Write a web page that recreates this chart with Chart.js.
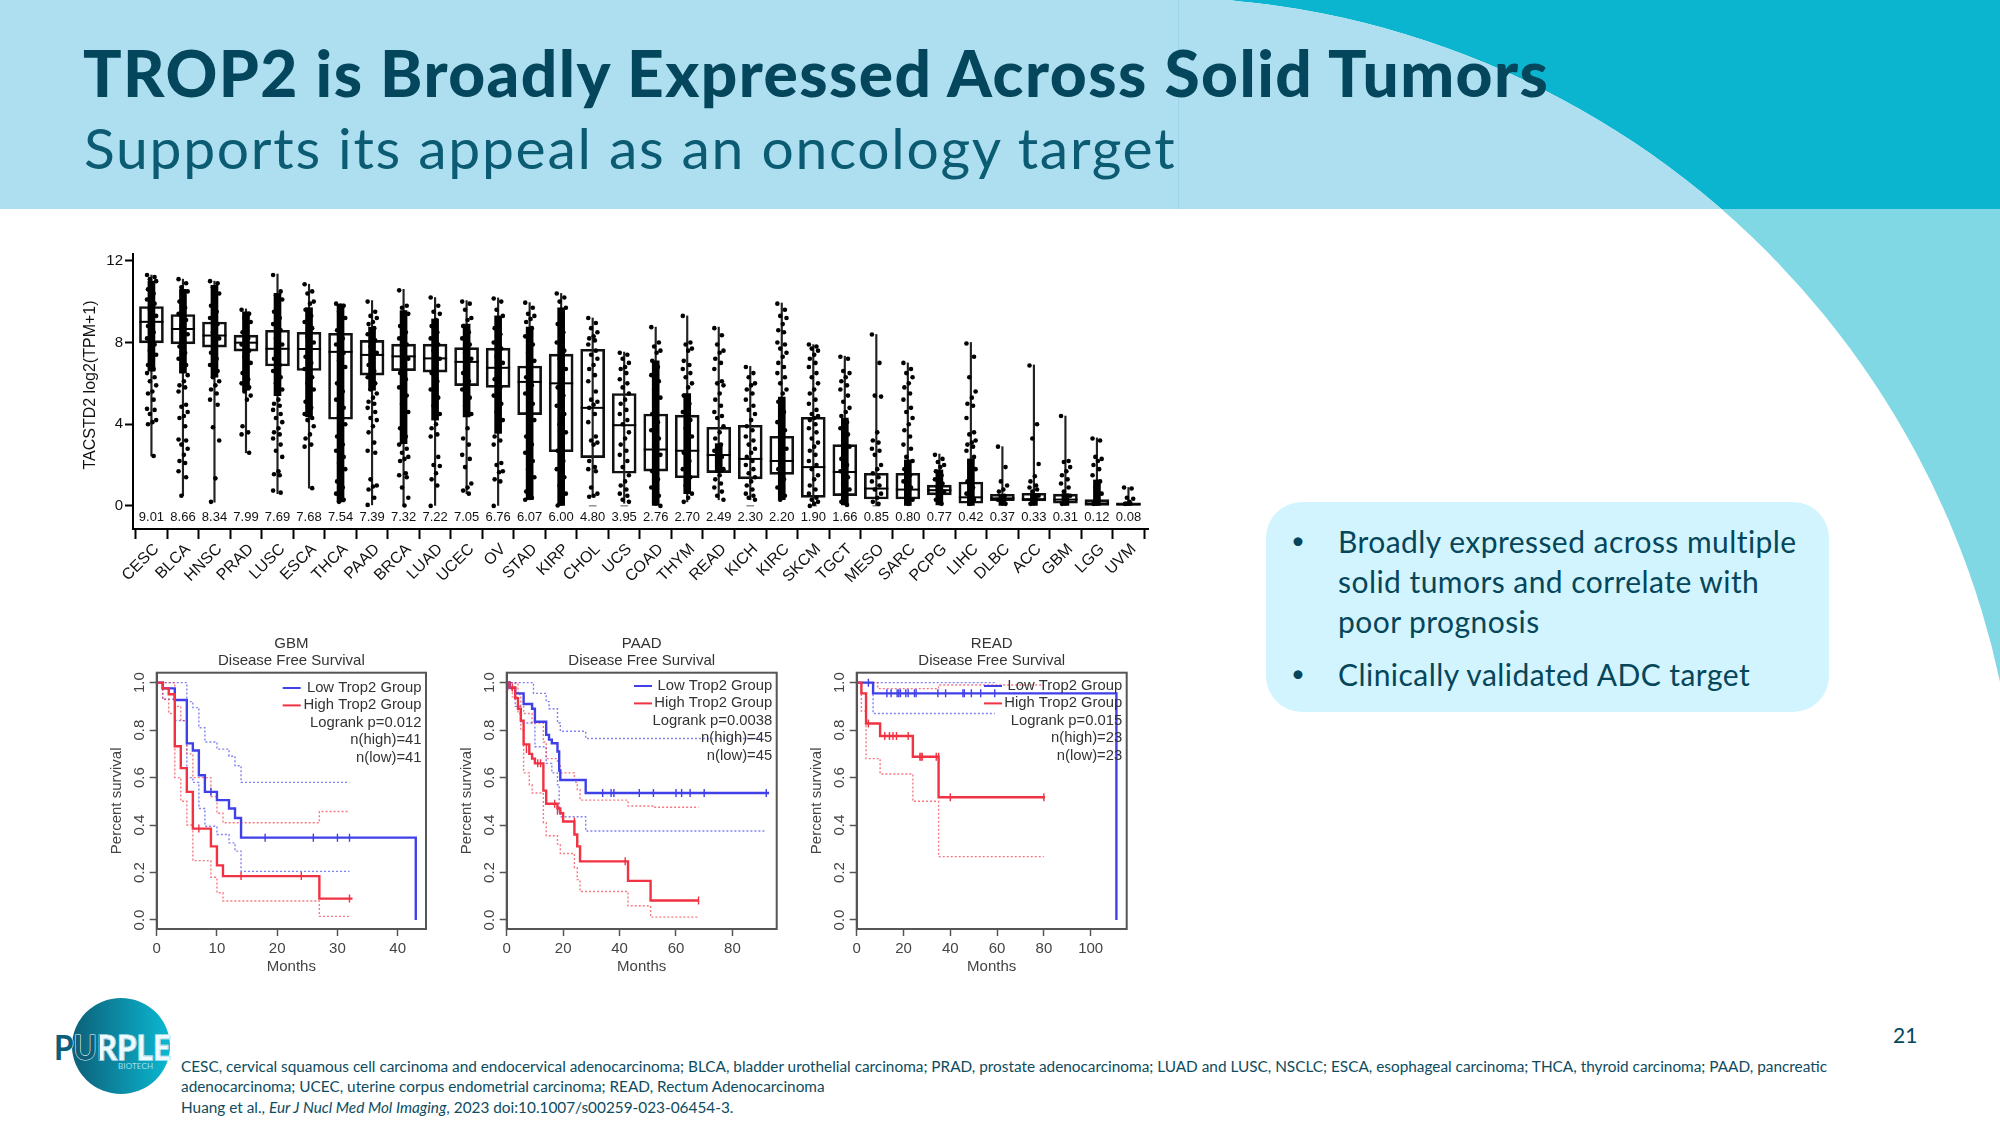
<!DOCTYPE html>
<html>
<head>
<meta charset="utf-8">
<title>TROP2 is Broadly Expressed Across Solid Tumors</title>
<script src="https://cdn.jsdelivr.net/npm/chart.js@4"></script>
<style>
  html, body { margin: 0; padding: 0; background: #fff; }
  #slide { position: relative; width: 2000px; height: 1125px; overflow: hidden; font-family: Lato, sans-serif; color: #05465a; }
  #slide svg.fondo { position: absolute; left: 0; top: 0; }
  #slide canvas { position: absolute; }
  #cajas { filter: blur(0.35px); }
  .km { filter: blur(0.55px); }
  .txt { position: absolute; white-space: nowrap; }
  #titulo { left: 83px; top: 35px; font-size: 64px; font-weight: 900; letter-spacing: 1.45px; color: #04465b; line-height: 76px; }
  #subtitulo { left: 84px; top: 112px; font-size: 57px; font-weight: 400; letter-spacing: 1.7px; color: #0b5b72; line-height: 70px; }
  #cuadro { position: absolute; left: 1266px; top: 502px; width: 563px; height: 210px; background: #d2f4fe; border-radius: 36px; }
  .linea { font-size: 30px; line-height: 40px; letter-spacing: 0.45px; color: #05465a; }
  .punto { font-size: 24px; }
  .nota { left: 181px; font-size: 15.35px; line-height: 20px; color: #0d4c60; }
</style>
</head>
<body>
<div id="slide">
  <svg class="fondo" width="2000" height="1125">
    <defs>
      <clipPath id="banda"><rect x="0" y="0" width="2000" height="209"/></clipPath>
      <clipPath id="logoClip"><rect x="100" y="990" width="80" height="110"/></clipPath>
      <linearGradient id="logoGrad"><stop offset="0" stop-color="#0d5f78"/><stop offset="1" stop-color="#0bb8d2"/></linearGradient>
    </defs>
    <rect x="0" y="0" width="2000" height="1125" fill="#7fd8e3"/>
    <rect x="0" y="0" width="2000" height="209" fill="#0bb5cf"/>
    <rect x="0" y="689" width="2000" height="436" fill="#fff"/>
    <circle cx="1154" cy="862" r="865" fill="#fff"/>
    <rect x="0" y="0" width="1154" height="1125" fill="#fff"/>
    <g clip-path="url(#banda)">
      <circle cx="1154" cy="862" r="865" fill="#aedff0"/>
      <rect x="0" y="0" width="1154" height="209" fill="#aedff0"/>
      <rect x="1178" y="0" width="1" height="209" fill="#9dd5e8"/>
    </g>
    <ellipse cx="121" cy="1046" rx="49" ry="48" fill="url(#logoGrad)"/>
    <text x="54" y="1060" font-family="Lato" font-weight="700" font-size="34" textLength="117" lengthAdjust="spacingAndGlyphs" fill="#0d5f78" stroke="#ecfbff" stroke-width="1.2" paint-order="stroke">PURPLE</text>
    <g clip-path="url(#logoClip)">
      <text x="54" y="1060" font-family="Lato" font-weight="700" font-size="34" textLength="117" lengthAdjust="spacingAndGlyphs" fill="#ecfbff">PURPLE</text>
    </g>
    <text x="118" y="1069" font-family="Lato" font-size="8" textLength="35" fill="#9fe3ee">BIOTECH</text>
  </svg>

  <div class="txt" id="titulo">TROP2 is Broadly Expressed Across Solid Tumors</div>
  <div class="txt" id="subtitulo">Supports its appeal as an oncology target</div>

  <canvas id="cajas" width="1092" height="350" style="left:70px;top:240px"></canvas>
  <canvas id="kmGbm" class="km" width="340" height="350" style="left:100px;top:630px"></canvas>
  <canvas id="kmPaad" class="km" width="340" height="350" style="left:450px;top:630px"></canvas>
  <canvas id="kmRead" class="km" width="340" height="350" style="left:800px;top:630px"></canvas>

  <div id="cuadro"></div>
  <div class="txt linea punto" style="left:1291px;top:520px">•</div>
  <div class="txt linea" style="left:1338px;top:521px">Broadly expressed across multiple</div>
  <div class="txt linea" style="left:1338px;top:561px">solid tumors and correlate with</div>
  <div class="txt linea" style="left:1338px;top:601px">poor prognosis</div>
  <div class="txt linea punto" style="left:1291px;top:653px">•</div>
  <div class="txt linea" style="left:1338px;top:654px">Clinically validated ADC target</div>

  <div class="txt" style="left:1893px;top:1022px;font-size:21px;color:#05465a">21</div>
  <div class="txt nota" style="top:1056px">CESC, cervical squamous cell carcinoma and endocervical adenocarcinoma; BLCA, bladder urothelial carcinoma; PRAD, prostate adenocarcinoma; LUAD and LUSC, NSCLC; ESCA, esophageal carcinoma; THCA, thyroid carcinoma; PAAD, pancreatic</div>
  <div class="txt nota" style="top:1076px">adenocarcinoma; UCEC, uterine corpus endometrial carcinoma; READ, Rectum Adenocarcinoma</div>
  <div class="txt nota" style="top:1097px">Huang et al., <i>Eur J Nucl Med Mol Imaging</i>, 2023 doi:10.1007/s00259-023-06454-3.</div>
</div>

<script>
const tumors = ['CESC','BLCA','HNSC','PRAD','LUSC','ESCA','THCA','PAAD','BRCA','LUAD','UCEC','OV','STAD','KIRP','CHOL','UCS','COAD','THYM','READ','KICH','KIRC','SKCM','TGCT','MESO','SARC','PCPG','LIHC','DLBC','ACC','GBM','LGG','UVM'];
const medians = [9.01,8.66,8.34,7.99,7.69,7.68,7.54,7.39,7.32,7.22,7.05,6.76,6.07,6.00,4.80,3.95,2.76,2.70,2.49,2.30,2.20,1.90,1.66,0.85,0.80,0.77,0.42,0.37,0.33,0.31,0.12,0.08];
const boxLow = [7.98,7.93,7.77,7.58,6.85,6.63,4.24,6.4,6.62,6.55,5.89,5.8,4.47,2.65,2.36,1.6,1.7,1.38,1.63,1.32,1.54,0.42,0.5,0.34,0.34,0.54,0.13,0.26,0.24,0.13,0.03,0.02];
const boxHigh = [9.76,9.37,9.0,8.36,8.6,8.5,8.45,8.1,7.92,7.92,7.75,7.72,6.85,7.43,7.67,5.5,4.5,4.44,3.85,3.95,3.41,4.34,3.0,1.6,1.6,1.02,1.17,0.57,0.62,0.58,0.31,0.15];
const whiskerLow = [2.44,0.5,0.18,2.6,0.6,0.87,0.2,0.05,0.02,0,0.6,0,0.3,0.02,0.45,0.13,0,0.2,0.3,0.3,0.3,0.02,0.05,0,0,0.05,0,0,0,0,0,0];
const whiskerHigh = [11.3,11.1,11.0,9.64,11.35,10.85,9.9,10.05,10.6,10.2,10.05,10.18,9.95,10.4,9.2,7.53,8.75,9.3,8.75,6.83,9.93,7.89,7.33,8.39,7.0,2.54,8.0,2.9,6.9,4.4,3.33,0.9];
// tramo donde los puntos se pegan en una columna negra (0,0 = sin columna)
const coreLow = [6.6,6.5,6.3,5.66,5.4,4.36,0.2,5.66,3.05,4.2,4.36,3.55,0.3,0.02,0,0,0,0.6,1.63,0,0.3,0,0.05,0,0,0.05,0,0,0,0,0,0];
const coreHigh = [11.0,10.6,10.8,9.5,10.4,9.7,9.88,8.75,9.56,9.15,8.9,9.3,8.75,9.7,0,0,7.1,5.5,3.05,0,5.33,0,4.3,0,2.25,1.76,2.3,0.55,0.6,0.6,1.27,0.2];
const stripValues = [
  [11.3,11.2,11.1,11.0,10.8,10.6,10.4,10.1,9.9,9.6,9.3,9.0,8.8,8.5,8.2,7.9,7.6,7.4,7.1,6.9,6.7,6.5,6.3,6.1,5.9,5.6,5.5,5.2,4.75,4.7,4.5,4.2,4.1,4.0,2.44],
  [11.1,10.9,10.7,10.5,10.2,10.0,9.7,9.4,9.1,8.8,8.4,8.1,7.8,7.5,7.2,6.9,6.6,6.4,6.1,5.9,5.8,5.6,4.95,4.85,4.6,4.4,4.3,3.9,3.25,3.2,3.0,2.8,2.5,2.2,2.1,1.7,1.4,0.5],
  [11.0,10.9,10.7,10.4,10.1,9.8,9.5,9.2,8.9,8.5,8.2,7.9,7.5,7.2,6.9,6.6,6.3,6.1,5.9,5.7,5.5,5.2,4.95,3.85,3.2,1.35,0.2],
  [9.6,9.4,9.2,9.0,8.8,8.5,8.2,7.9,7.6,7.3,7.0,6.8,6.5,6.2,6.0,5.8,5.6,5.4,5.2,3.9,3.6,3.5,2.6],
  [11.3,10.5,10.3,10.1,9.8,9.5,9.2,8.9,8.6,8.2,7.9,7.5,7.2,6.9,6.6,6.3,6.0,5.7,5.2,5.0,4.9,4.7,4.5,4.3,4.1,3.8,3.6,3.5,3.3,3.0,2.7,2.4,1.7,1.55,1.5,0.75,0.65],
  [10.85,10.5,10.4,10.0,9.9,9.6,9.3,9.0,8.7,8.3,8.0,7.6,7.3,7.0,6.7,6.3,6.0,5.7,5.4,5.1,4.8,4.5,4.3,4.2,3.9,3.5,3.3,3.0,2.9,0.87],
  [9.9,9.8,9.5,9.2,8.9,8.6,8.2,7.9,7.5,7.1,6.8,6.4,6.0,5.6,5.2,4.8,4.4,4.0,3.7,3.4,3.0,2.7,2.4,2.1,1.8,1.5,1.2,0.9,0.6,0.3,0.2],
  [10.0,9.5,9.3,9.2,9.0,8.9,8.7,8.4,8.1,7.8,7.5,7.2,6.9,6.6,6.3,6.0,5.7,5.5,5.3,5.1,5.0,4.8,4.6,4.3,4.2,3.9,3.6,3.1,2.7,2.6,1.3,1.0,0.95,0.8,0.4,0.05],
  [10.55,9.8,9.7,9.4,9.1,8.8,8.5,8.2,7.9,7.6,7.2,6.9,6.5,6.2,5.8,5.4,5.0,4.6,4.2,3.8,3.4,3.0,2.8,2.6,2.4,2.3,2.2,1.6,1.5,1.4,0.9,0.4,0.02],
  [10.2,9.8,9.5,9.4,9.1,8.8,8.5,8.2,7.9,7.6,7.2,6.8,6.5,6.1,5.7,5.3,4.9,4.5,4.0,3.8,3.5,3.4,2.4,2.0,1.95,1.6,1.3,1.0,0],
  [10.0,9.9,9.6,9.2,9.1,8.8,8.5,8.2,7.9,7.5,7.2,6.9,6.5,6.1,5.7,5.3,4.9,4.5,3.8,3.3,3.0,2.5,2.3,1.9,1.1,0.9,0.75,0.6],
  [10.15,10.0,9.6,9.3,9.0,8.7,8.4,8.0,7.7,7.3,7.0,6.6,6.2,5.8,5.4,5.0,4.6,4.2,3.8,3.4,3.2,3.0,2.1,2.0,1.7,1.65,1.3,1.2,0],
  [9.95,9.7,9.4,9.3,9.15,9.0,8.7,8.3,7.9,7.5,7.1,6.7,6.3,5.9,5.5,5.0,4.6,4.2,3.8,3.4,3.0,2.6,2.2,1.8,1.4,1.0,0.7,0.4,0.3],
  [10.4,10.2,10.0,9.7,9.3,8.9,8.5,8.0,7.6,7.2,6.7,6.3,5.8,5.4,4.9,4.5,4.0,3.6,3.1,2.7,2.2,1.8,1.4,1.0,0.6,0.2,0.02],
  [9.2,8.95,8.7,8.5,8.3,8.2,8.1,7.9,7.6,7.4,7.2,6.9,6.7,6.4,6.1,5.6,5.2,5.1,4.95,4.8,4.5,4.1,3.4,3.2,3.1,3.0,2.2,1.9,1.8,1.7,0.9,0.6,0.5,0.45],
  [7.5,7.4,7.2,7.0,6.8,6.7,6.5,6.2,6.0,5.8,5.5,5.2,5.0,4.7,4.5,4.2,4.0,3.6,3.3,3.0,2.7,2.5,2.2,1.9,1.5,1.2,1.0,0.8,0.6,0.5,0.3,0.2],
  [8.75,8.0,7.8,7.6,7.5,7.1,6.8,6.4,6.1,5.7,5.3,4.9,4.5,4.1,3.7,3.3,2.9,2.5,2.1,1.7,1.3,0.9,0.5,0.2,0],
  [9.3,8.0,7.9,7.7,7.6,7.1,6.9,6.7,6.5,6.3,6.0,5.8,5.4,5.0,4.6,4.2,3.8,3.4,3.0,2.6,2.2,1.8,1.4,1.0,0.6,0.4,0.2],
  [8.7,8.35,7.9,7.6,7.5,7.2,7.0,6.7,6.1,6.0,5.9,5.5,5.2,4.9,4.6,4.4,4.3,3.9,3.6,3.3,3.0,2.7,2.4,2.1,1.8,1.5,1.3,1.1,0.9,0.7,0.5,0.3],
  [6.8,6.5,6.3,6.0,5.9,5.7,5.5,5.2,4.9,4.7,4.5,4.2,3.9,3.7,3.4,3.2,3.0,2.8,2.6,2.4,2.2,2.0,1.8,1.6,1.4,1.2,1.0,0.8,0.6,0.5,0.4,0.3],
  [9.9,9.6,9.3,9.2,8.9,8.6,8.5,8.0,7.9,7.7,7.5,7.3,7.0,6.8,6.5,6.3,6.0,5.7,5.5,5.1,4.6,4.1,3.7,3.2,2.8,2.3,1.8,1.3,0.9,0.5,0.3],
  [7.9,7.8,7.7,7.6,7.4,7.2,7.0,6.8,6.5,6.3,6.0,5.7,5.5,5.2,5.0,4.7,4.5,4.4,4.3,4.2,4.0,3.8,3.6,3.3,3.1,2.9,2.7,2.5,2.2,2.0,1.8,1.5,1.3,1.0,0.8,0.6,0.4,0.3,0.2,0.1,0],
  [7.3,7.2,6.6,6.5,6.3,6.1,5.9,5.7,5.4,5.1,4.8,4.6,4.4,4.1,3.8,3.5,3.2,2.9,2.6,2.3,2.0,1.7,1.4,1.1,0.8,0.5,0.2,0.05],
  [8.39,7.0,5.4,5.35,3.6,3.2,3.1,2.8,2.7,2.5,2.0,1.8,1.6,1.4,1.2,1.0,0.8,0.6,0.4,0.2,0.1],
  [7.0,6.7,6.5,6.3,6.0,5.8,5.5,5.2,4.8,4.6,4.3,4.0,3.7,3.4,3.0,2.8,2.4,2.2,2.0,1.8,1.5,1.2,0.9,0.6,0.3,0.1],
  [2.5,2.3,2.15,2.0,1.9,1.7,1.5,1.3,1.1,0.9,0.7,0.5,0.3,0.1],
  [7.95,7.3,6.3,5.6,5.3,5.0,4.9,4.3,3.6,3.5,3.2,3.1,3.0,2.9,2.7,2.4,2.1,1.8,1.5,1.2,0.9,0.6,0.3,0.1],
  [2.9,1.9,1.2,1.0,0.8,0.7,0.5,0.3,0.1],
  [6.87,4.0,3.3,2.05,1.45,1.2,1.0,0.9,0.8,0.7,0.5,0.3,0.1],
  [4.4,2.2,2.15,1.9,1.7,1.5,1.3,1.1,0.9,0.7,0.5,0.3,0.1],
  [3.3,3.2,2.4,2.3,2.2,2.0,1.8,1.5,1.2,0.9,0.6,0.3,0.1],
  [0.9,0.85,0.4,0.35,0.2,0.1]
];
const boxTicks = [0,4,8,12];

const survivalTicks = [0,0.2,0.4,0.6,0.8,1];
const legendLabels = ['Low Trop2 Group','High Trop2 Group'];

const gbmLowX = [0,1,3,5,6,7,8,10,12,13,14,43];
const gbmLowY = [1,0.976,0.927,0.744,0.714,0.61,0.54,0.505,0.47,0.43,0.347,0];
const gbmHighX = [0,1,2,3,4,5,6,9,10,11,27,32.5];
const gbmHighY = [1,0.976,0.951,0.732,0.64,0.54,0.385,0.31,0.23,0.185,0.09,0.09];
const gbmLowUpX = [0,5,6,7,8,9,10,12,13,14,32];
const gbmLowUpY = [1,0.92,0.895,0.81,0.75,0.75,0.72,0.69,0.65,0.58,0.58];
const gbmLowDownX = [0,1,3,5,6,7,8,10,12,13,14,32];
const gbmLowDownY = [1,0.93,0.84,0.6,0.58,0.47,0.395,0.36,0.325,0.29,0.205,0.205];
const gbmHighUpX = [0,3,4,5,6,9,10,11,27,32];
const gbmHighUpY = [1,0.9,0.84,0.7,0.6,0.52,0.45,0.41,0.457,0.457];
const gbmHighDownX = [0,1,2,3,4,5,6,9,10,11,27,32];
const gbmHighDownY = [1,0.93,0.87,0.6,0.5,0.4,0.25,0.18,0.115,0.08,0.015,0.015];
const gbmLowCensorX = [9,18,26,30,32];
const gbmLowCensorY = [0.54,0.347,0.347,0.347,0.347];
const gbmHighCensorX = [7,14,24,32];
const gbmHighCensorY = [0.385,0.185,0.185,0.09];
const gbmNotes = ['Logrank p=0.012','n(high)=41','n(low)=41'];

const paadLowX = [0,1,3,6,9,10,14,15,16,18,18.6,19,28,93];
const paadLowY = [1,0.978,0.955,0.91,0.89,0.835,0.78,0.76,0.745,0.71,0.63,0.59,0.535,0.535];
const paadHighX = [0,1,3,4,5,6,8,9,10,13,14,18,19,20,24,25,26,43,51,68];
const paadHighY = [1,0.98,0.935,0.89,0.84,0.74,0.7,0.68,0.66,0.545,0.49,0.47,0.45,0.415,0.36,0.31,0.247,0.165,0.082,0.082];
const paadLowUpX = [0,9.5,14,15,18,19,28,91];
const paadLowUpY = [1,0.955,0.92,0.89,0.83,0.795,0.765,0.765];
const paadLowDownX = [0,3,5,10,14,16,18,18.6,19,28,92];
const paadLowDownY = [1,0.9,0.83,0.73,0.66,0.62,0.57,0.45,0.435,0.375,0.375];
const paadHighUpX = [0,4,5,6,9,13,14,18,19,24,25,26,43,52,68];
const paadHighUpY = [1,0.95,0.9,0.87,0.83,0.75,0.68,0.66,0.62,0.58,0.55,0.505,0.48,0.475,0.475];
const paadHighDownX = [0,2,4,5,6,8,9,13,14,18,19,24,25,26,43,51,68];
const paadHighDownY = [0.97,0.94,0.87,0.8,0.62,0.57,0.535,0.41,0.355,0.32,0.28,0.22,0.17,0.12,0.06,0.012,0.012];
const paadLowCensorX = [1,34,37,38,47,52,60,62,65,70,92];
const paadLowCensorY = [0.99,0.535,0.535,0.535,0.535,0.535,0.535,0.535,0.535,0.535,0.535];
const paadHighCensorX = [1,2,7,11,12,17,18,24,42,68];
const paadHighCensorY = [0.99,0.98,0.72,0.66,0.66,0.49,0.46,0.415,0.247,0.082];
const paadNotes = ['Logrank p=0.0038','n(high)=45','n(low)=45'];

const readLowX = [0,7,111];
const readLowY = [1,0.955,0];
const readHighX = [0,2,4,10,24,35,80.5];
const readHighY = [1,0.955,0.828,0.775,0.688,0.517,0.517];
const readLowUpX = [0,59];
const readLowUpY = [1,1];
const readLowDownX = [0,7,59];
const readLowDownY = [1,0.87,0.87];
const readHighUpX = [0,9,35,80];
const readHighUpY = [1,0.975,0.99,0.99];
const readHighDownX = [0,2,4,10,24,35,80];
const readHighDownY = [1,0.88,0.68,0.615,0.5,0.267,0.267];
const readLowCensorX = [5,12.9,14.7,17.3,18,18.7,21,22,24.7,25.4,34.7,38,45.4,46,49,53,59];
const readLowCensorY = [1,0.955,0.955,0.955,0.955,0.955,0.955,0.955,0.955,0.955,0.955,0.955,0.955,0.955,0.955,0.955,0.955];
const readHighCensorX = [5,12,14,15.5,17,22,27,27.5,28,34,35,40,80];
const readHighCensorY = [0.828,0.775,0.775,0.775,0.775,0.775,0.688,0.688,0.688,0.688,0.688,0.517,0.517];
const readNotes = ['Logrank p=0.015','n(high)=23','n(low)=23'];

Chart.defaults.font.family = '"Liberation Sans", Arial, sans-serif';
Chart.defaults.animation = false;
Chart.defaults.responsive = false;
Chart.defaults.devicePixelRatio = 1;

const JITTER = [-0.14, 0.1, -0.05, 0.15, 0.03, -0.11, 0.07];
const BLUE = '#4040e8';
const RED = '#f03242';

function zipPoints(xs, ys) {
  return xs.map((x, i) => ({ x: x, y: ys[i] }));
}

// grafico de cajas con los puntos de cada tumor
const stripPoints = [];
stripValues.forEach((values, i) => {
  values.forEach((v, k) => stripPoints.push({ x: i + JITTER[k % JITTER.length], y: v }));
});

const medianLabelsPlugin = {
  id: 'medianLabels',
  afterDatasetsDraw(chart) {
    const c = chart.ctx, sx = chart.scales.x, sy = chart.scales.y;
    c.save();
    c.font = '13px "Liberation Sans"';
    c.fillStyle = '#111';
    c.textAlign = 'center';
    c.textBaseline = 'middle';
    medians.forEach((m, i) => c.fillText(m.toFixed(2), sx.getPixelForValue(i), sy.getPixelForValue(-0.55)));

    // titulo del eje y, algo por encima del centro del eje
    c.font = '16px "Liberation Sans"';
    c.translate(21, 145);
    c.rotate(-Math.PI / 2);
    c.fillText('TACSTD2 log2(TPM+1)', 0, 0);
    c.restore();
  }
};

new Chart(document.getElementById('cajas'), {
  type: 'bar',
  data: {
    datasets: [
      {
        type: 'scatter', order: 0,
        data: medians.map((m, i) => ({ x: i, y: m })),
        pointStyle: 'line', pointRadius: 12, pointBorderWidth: 2, pointBorderColor: '#000'
      },
      {
        type: 'scatter', order: 1,
        data: stripPoints,
        pointRadius: 2.3, pointBackgroundColor: '#000', pointBorderWidth: 0
      },
      {
        order: 2, grouped: false, barThickness: 7, backgroundColor: '#000',
        data: tumors.map((t, i) => ({ x: i, y: [coreLow[i], coreHigh[i]] }))
      },
      {
        order: 3, grouped: false, barThickness: 1.5, backgroundColor: '#222',
        data: tumors.map((t, i) => ({ x: i, y: [whiskerLow[i], whiskerHigh[i]] }))
      },
      {
        order: 4, grouped: false, barThickness: 24, backgroundColor: 'rgba(0,0,0,0)',
        borderColor: '#111', borderWidth: 2, borderSkipped: false,
        data: tumors.map((t, i) => ({ x: i, y: [boxLow[i], boxHigh[i]] }))
      }
    ]
  },
  options: {
    layout: { padding: { top: 11, right: 9 } },
    plugins: { legend: { display: false }, tooltip: { enabled: false } },
    scales: {
      x: {
        type: 'linear', offset: false, min: -0.585, max: 31.62,
        afterBuildTicks: s => { s.ticks = tumors.map((t, i) => ({ value: i })); },
        afterFit: s => { s.height = 61; s.paddingLeft = 0; s.paddingRight = 0; },
        grid: { drawOnChartArea: false, tickLength: 10, tickColor: '#000', tickWidth: 2 },
        border: { color: '#000', width: 2 },
        ticks: {
          autoSkip: false, maxRotation: 45, minRotation: 45, padding: 1, labelOffset: 5, color: '#111',
          font: { size: 16 }, callback: v => tumors[v]
        }
      },
      y: {
        min: -1.13, max: 12.33,
        afterBuildTicks: s => { s.ticks = boxTicks.map(v => ({ value: v })); },
        afterFit: s => { s.width = 63; },
        grid: { drawOnChartArea: false, tickLength: 8, tickColor: '#000', tickWidth: 2 },
        border: { color: '#000', width: 2 },
        ticks: { padding: 2, color: '#111', font: { size: 15 } }
      }
    }
  },
  plugins: [medianLabelsPlugin]
});

// curvas de supervivencia
function survivalChart(id, cfg) {
  const framePlugin = {
    id: 'frame',
    afterDatasetsDraw(chart) {
      const c = chart.ctx, a = chart.chartArea, sy = chart.scales.y;
      c.save();
      c.strokeStyle = '#555';
      c.lineWidth = 2;
      c.strokeRect(a.left, a.top, a.right - a.left, a.bottom - a.top);

      // etiquetas del eje y giradas, al estilo de R
      c.fillStyle = '#444';
      c.font = '15px "Liberation Sans"';
      c.textAlign = 'center';
      c.textBaseline = 'middle';
      survivalTicks.forEach(v => {
        c.save();
        c.translate(a.left - 17, sy.getPixelForValue(v));
        c.rotate(-Math.PI / 2);
        c.fillText(v.toFixed(1), 0, 0);
        c.restore();
      });

      // leyenda
      c.font = '14.8px "Liberation Sans"';
      c.textAlign = 'right';
      const rows = legendLabels.concat(cfg.notes);
      rows.forEach((t, i) => {
        c.fillStyle = '#333';
        c.fillText(t, a.right - 4.5, a.top + cfg.legendTop + i * 17.4);
      });
      c.lineWidth = 2;
      [BLUE, RED].forEach((col, i) => {
        c.strokeStyle = col;
        c.beginPath();
        c.moveTo(a.right - cfg.legendLine, a.top + cfg.legendTop + i * 17.4);
        c.lineTo(a.right - cfg.legendLine + 18, a.top + cfg.legendTop + i * 17.4);
        c.stroke();
      });
      c.restore();
    }
  };

  const curve = (points, color) => ({
    data: points, showLine: true, stepped: 'before', borderColor: color, borderWidth: 2.4, pointRadius: 0
  });
  const band = (points, color) => ({
    data: points, showLine: true, stepped: 'before', borderColor: color, borderWidth: 1.4, borderDash: [2, 2], pointRadius: 0
  });
  const censor = (points, color) => ({
    data: points, showLine: false, pointStyle: 'line', pointRotation: 90, pointRadius: 4, pointBorderWidth: 1.4, pointBorderColor: color
  });

  new Chart(document.getElementById(id), {
    type: 'scatter',
    data: {
      datasets: [
        censor(cfg.highCensor, RED),
        censor(cfg.lowCensor, BLUE),
        curve(cfg.high, RED),
        curve(cfg.low, BLUE),
        band(cfg.highUp, 'rgba(240,50,66,0.65)'),
        band(cfg.highDown, 'rgba(240,50,66,0.65)'),
        band(cfg.lowUp, 'rgba(64,64,232,0.65)'),
        band(cfg.lowDown, 'rgba(64,64,232,0.65)')
      ]
    },
    options: {
      layout: { padding: { right: cfg.paddingRight } },
      plugins: {
        legend: { display: false },
        tooltip: { enabled: false },
        title: {
          display: true, text: [cfg.title, 'Disease Free Survival'], fullSize: false,
          color: '#333', font: { size: 15, weight: 'normal', lineHeight: 1.1 },
          padding: { top: 6, bottom: 3.7 }
        }
      },
      scales: {
        x: {
          type: 'linear', min: 0, max: cfg.xMax,
          afterBuildTicks: s => { s.ticks = cfg.xTicks.map(v => ({ value: v })); },
          afterFit: s => { s.height = 51; },
          grid: { drawOnChartArea: false, tickLength: 7, tickColor: '#555', tickWidth: 1.5 },
          border: { color: '#555', width: 2 },
          ticks: { maxRotation: 0, padding: 4, color: '#444', font: { size: 15 } },
          title: { display: true, text: 'Months', color: '#444', font: { size: 15 }, padding: { top: 1, bottom: 4 } }
        },
        y: {
          min: -0.038, max: 1.042,
          afterBuildTicks: s => { s.ticks = survivalTicks.map(v => ({ value: v })); },
          afterFit: s => { s.width = 56.7; },
          grid: { drawOnChartArea: false, tickLength: 7, tickColor: '#555', tickWidth: 1.5 },
          border: { color: '#555', width: 2 },
          ticks: { display: false },
          title: { display: true, text: 'Percent survival', color: '#444', font: { size: 15 }, padding: { top: 8, bottom: 0 } }
        }
      }
    },
    plugins: [framePlugin]
  });
}

survivalChart('kmGbm', {
  title: 'GBM', xMax: 44.7, xTicks: [0,10,20,30,40], paddingRight: 14,
  legendTop: 15.3, legendLine: 143.3, notes: gbmNotes,
  low: zipPoints(gbmLowX, gbmLowY), high: zipPoints(gbmHighX, gbmHighY),
  lowUp: zipPoints(gbmLowUpX, gbmLowUpY), lowDown: zipPoints(gbmLowDownX, gbmLowDownY),
  highUp: zipPoints(gbmHighUpX, gbmHighUpY), highDown: zipPoints(gbmHighDownX, gbmHighDownY),
  lowCensor: zipPoints(gbmLowCensorX, gbmLowCensorY), highCensor: zipPoints(gbmHighCensorX, gbmHighCensorY)
});
survivalChart('kmPaad', {
  title: 'PAAD', xMax: 95.7, xTicks: [0,20,40,60,80], paddingRight: 13.3,
  legendTop: 13.3, legendLine: 142.7, notes: paadNotes,
  low: zipPoints(paadLowX, paadLowY), high: zipPoints(paadHighX, paadHighY),
  lowUp: zipPoints(paadLowUpX, paadLowUpY), lowDown: zipPoints(paadLowDownX, paadLowDownY),
  highUp: zipPoints(paadHighUpX, paadHighUpY), highDown: zipPoints(paadHighDownX, paadHighDownY),
  lowCensor: zipPoints(paadLowCensorX, paadLowCensorY), highCensor: zipPoints(paadHighCensorX, paadHighCensorY)
});
survivalChart('kmRead', {
  title: 'READ', xMax: 115.4, xTicks: [0,20,40,60,80,100], paddingRight: 13.3,
  legendTop: 13.3, legendLine: 142.7, notes: readNotes,
  low: zipPoints(readLowX, readLowY), high: zipPoints(readHighX, readHighY),
  lowUp: zipPoints(readLowUpX, readLowUpY), lowDown: zipPoints(readLowDownX, readLowDownY),
  highUp: zipPoints(readHighUpX, readHighUpY), highDown: zipPoints(readHighDownX, readHighDownY),
  lowCensor: zipPoints(readLowCensorX, readLowCensorY), highCensor: zipPoints(readHighCensorX, readHighCensorY)
});
</script>
</body>
</html>
